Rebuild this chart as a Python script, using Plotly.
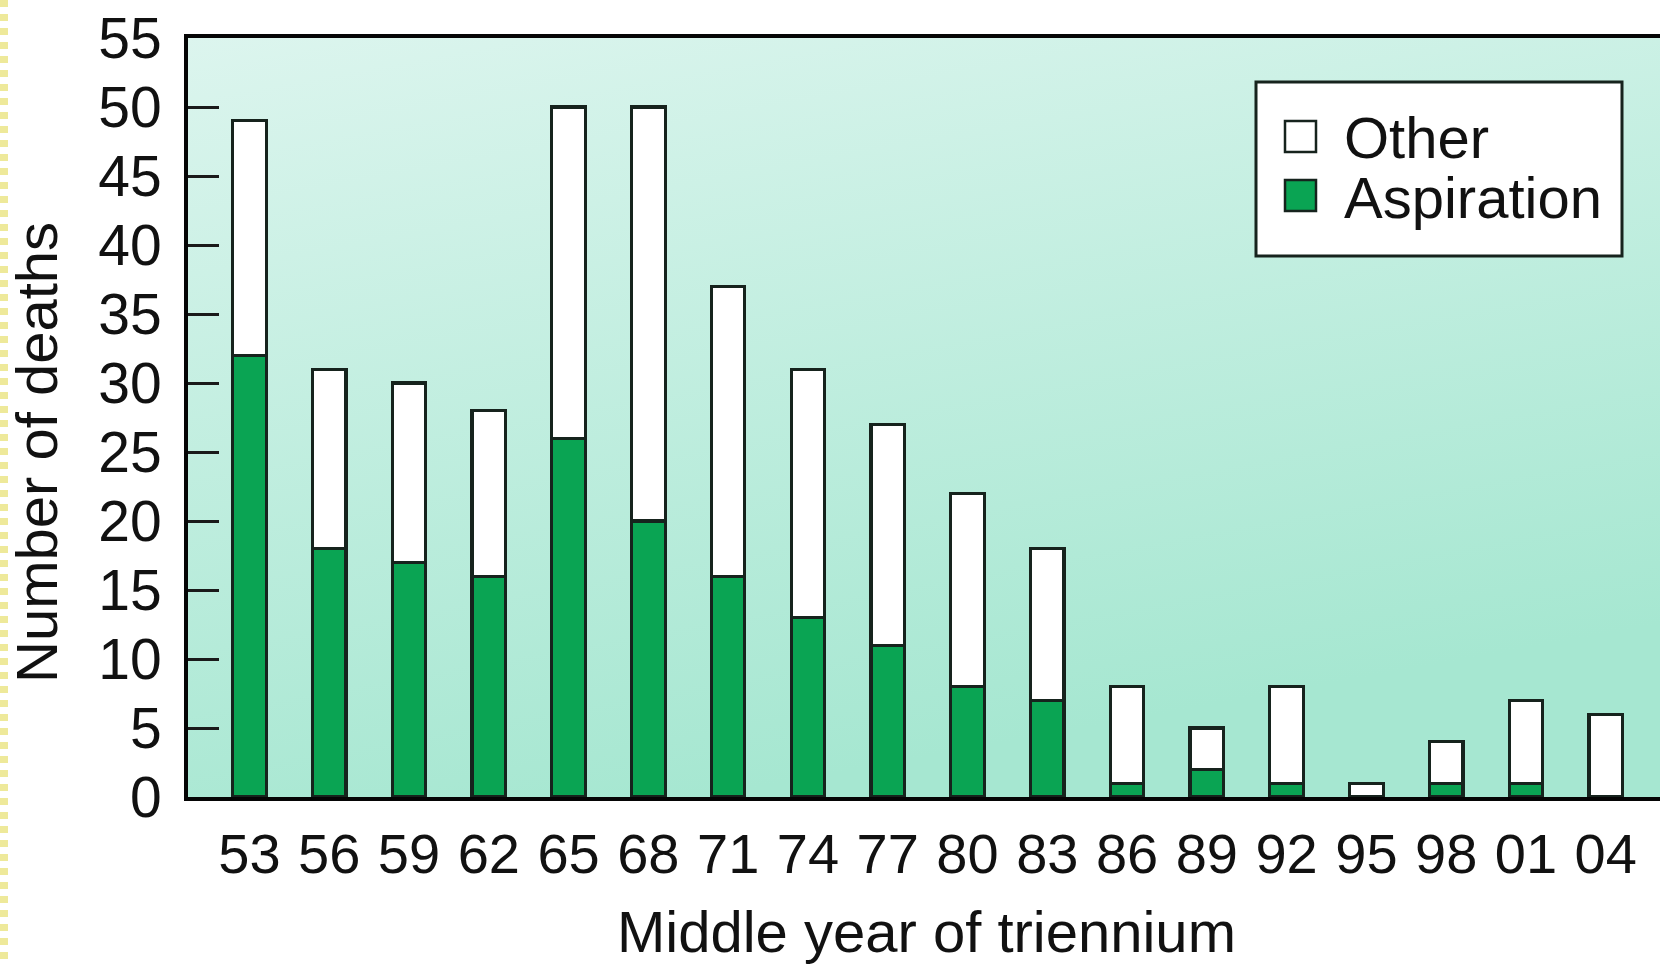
import plotly.graph_objects as go

# ---- data ----
years = ["53", "56", "59", "62", "65", "68", "71", "74", "77", "80",
         "83", "86", "89", "92", "95", "98", "01", "04"]
aspiration = [32, 18, 17, 16, 26, 20, 16, 13, 11, 8, 7, 1, 2, 1, 0, 1, 1, 0]
other = [17, 13, 13, 12, 24, 30, 21, 18, 16, 14, 11, 7, 3, 7, 1, 3, 6, 6]
y_ticks = [0, 5, 10, 15, 20, 25, 30, 35, 40, 45, 50, 55]

W, H = 1660, 966
L, R, T, B = 188, 0, 38, 169
PW, PH = W - L - R, H - T - B

def px(x):
    return (x - L) / PW

def py(y):
    return (H - B - y) / PH

FONT = "Liberation Sans, Arial, Helvetica, sans-serif"
INK = "#111111"
EDGE = "#16231d"
GREEN = "#0aa453"

fig = go.Figure()
fig.add_trace(go.Bar(x=years, y=aspiration, name="Aspiration", width=0.42,
                     marker=dict(color=GREEN, line=dict(color=EDGE, width=3.2)),
                     showlegend=False))
fig.add_trace(go.Bar(x=years, y=other, name="Other", width=0.42,
                     marker=dict(color="#ffffff", line=dict(color=EDGE, width=3.2)),
                     showlegend=False))

grad = ("data:image/svg+xml;utf8,"
        "<svg xmlns='http://www.w3.org/2000/svg' width='100' height='100' preserveAspectRatio='none'>"
        "<defs><linearGradient id='g' x1='0' y1='0' x2='0.35' y2='1'>"
        "<stop offset='0' stop-color='%23dcf5ee'/>"
        "<stop offset='1' stop-color='%23a6e7d1'/>"
        "</linearGradient></defs>"
        "<rect width='100' height='100' fill='url(%23g)'/></svg>")

shapes = [
    # legend box
    dict(type="rect", xref="paper", yref="paper",
         x0=px(1256), x1=px(1622), y0=py(256), y1=py(82),
         fillcolor="#ffffff", line=dict(color=EDGE, width=3), layer="above"),
    dict(type="rect", xref="paper", yref="paper",
         x0=px(1285), x1=px(1316), y0=py(152), y1=py(121),
         fillcolor="#ffffff", line=dict(color=EDGE, width=2.5), layer="above"),
    dict(type="rect", xref="paper", yref="paper",
         x0=px(1285), x1=px(1316), y0=py(211), y1=py(180),
         fillcolor=GREEN, line=dict(color=EDGE, width=2.5), layer="above"),
    # yellow dashed edge
    dict(type="line", xref="paper", yref="paper",
         x0=px(4), x1=px(4), y0=py(0), y1=py(H),
         line=dict(color="#eee99a", width=8, dash="7px,7px")),
]

annotations = [
    dict(text="Other", xref="paper", yref="paper", x=px(1342), y=py(137),
         xanchor="left", yanchor="middle", showarrow=False,
         font=dict(family=FONT, size=58, color=INK)),
    dict(text="Aspiration", xref="paper", yref="paper", x=px(1342), y=py(197),
         xanchor="left", yanchor="middle", showarrow=False,
         font=dict(family=FONT, size=58, color=INK)),
    dict(text="Number of deaths", xref="paper", yref="paper", x=px(36), y=py(453),
         xanchor="center", yanchor="middle", textangle=-90, showarrow=False,
         font=dict(family=FONT, size=58, color=INK)),
    dict(text="Middle year of triennium", xref="paper", yref="paper", x=px(926), y=py(931),
         xanchor="center", yanchor="middle", showarrow=False,
         font=dict(family=FONT, size=58, color=INK)),
]

fig.update_layout(
    width=W, height=H,
    margin=dict(l=L, r=R, t=T, b=B, pad=0),
    paper_bgcolor="#ffffff",
    plot_bgcolor="#c4efe0",
    barmode="stack",
    font=dict(family=FONT, color=INK),
    images=[dict(source=grad, xref="paper", yref="paper", x=0, y=1,
                 sizex=1, sizey=1, sizing="stretch", layer="below",
                 xanchor="left", yanchor="top")],
    shapes=shapes,
    annotations=annotations,
    xaxis=dict(type="category", range=[-0.77, 17.68], showgrid=False, zeroline=False,
               showline=True, linecolor="#050505", linewidth=4, mirror=True,
               ticks="", tickfont=dict(family=FONT, size=56, color=INK),
               ticklabelstandoff=5),
    yaxis=dict(range=[0, 55], tickvals=y_ticks, showgrid=False, zeroline=False,
               showline=True, linecolor="#050505", linewidth=4,
               ticks="inside", ticklen=31, tickwidth=3, tickcolor="#1a1a1a",
               tickfont=dict(family=FONT, size=57, color=INK),
               ticklabelstandoff=11),
)

fig.write_html("out.html", config={"displayModeBar": False},
               post_script="document.body.style.margin='0';")
